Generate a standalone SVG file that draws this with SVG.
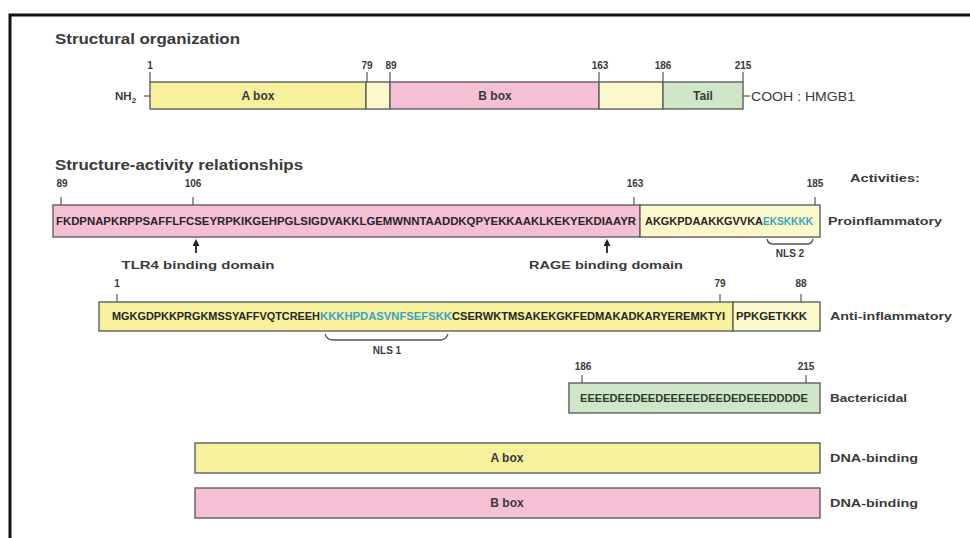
<svg xmlns="http://www.w3.org/2000/svg" width="970" height="538" viewBox="0 0 970 538">
<defs>
<style>
text{font-family:"Liberation Sans",Arial,sans-serif;fill:#3a3a3a}
.t{font-size:14.5px;font-weight:bold}
.lab{font-size:11.5px;font-weight:bold}
.num{font-size:10px;font-weight:bold;text-anchor:middle}
.box{font-size:12px;font-weight:bold;text-anchor:middle}
.seq{font-size:10px;font-weight:bold;fill:#262626}
.cy{fill:#3aa3c4}
.ob{stroke:#5e5e5e;stroke-width:1.4}
.ya{fill:#f7f09c}
.pk{fill:#f5bfd6}
.ly{fill:#fbf8cb}
.gr{fill:#cfe6c8}
.tk{stroke:#555;stroke-width:1.2}
.br{fill:none;stroke:#555;stroke-width:1.3}
</style>
<marker id="ah" markerWidth="7" markerHeight="7" refX="3" refY="3.5" orient="auto" markerUnits="userSpaceOnUse">
<path d="M0,0 L7,3.5 L0,7 z" fill="#222"/>
</marker>
</defs>
<rect width="970" height="538" fill="#fff"/>
<path d="M10,538 V15 H970" fill="none" stroke="#111" stroke-width="3"/>

<text class="t" x="55" y="44" textLength="185" lengthAdjust="spacingAndGlyphs">Structural organization</text>

<g id="hmgb1-structure">
<rect class="ya ob" x="150" y="82" width="216" height="27"/>
<rect class="ly ob" x="366" y="82" width="24" height="27"/>
<rect class="pk ob" x="390" y="82" width="209" height="27"/>
<rect class="ly ob" x="599" y="82" width="64" height="27"/>
<rect class="gr ob" x="663" y="82" width="80" height="27"/>
<text class="box" x="258" y="100">A box</text>
<text class="box" x="495" y="100">B box</text>
<text class="box" x="703" y="100">Tail</text>
<line class="tk" x1="150" y1="72" x2="150" y2="82"/>
<line class="tk" x1="367" y1="72" x2="367" y2="82"/>
<line class="tk" x1="390" y1="72" x2="390" y2="82"/>
<line class="tk" x1="599" y1="72" x2="599" y2="82"/>
<line class="tk" x1="663" y1="72" x2="663" y2="82"/>
<line class="tk" x1="743" y1="72" x2="743" y2="82"/>
<text class="num" x="150" y="69">1</text>
<text class="num" x="367" y="69">79</text>
<text class="num" x="391" y="69">89</text>
<text class="num" x="600" y="69">163</text>
<text class="num" x="663" y="69">186</text>
<text class="num" x="743" y="69">215</text>
<text x="115" y="100" style="font-size:11.5px;font-weight:bold">NH<tspan style="font-size:8px" dy="3">2</tspan></text>
<line class="tk" x1="144" y1="96" x2="150" y2="96"/>
<line class="tk" x1="743" y1="96" x2="750" y2="96"/>
<text x="751" y="100.5" style="font-size:13px" textLength="104" lengthAdjust="spacingAndGlyphs">COOH : HMGB1</text>
</g>

<text class="t" x="55" y="170" textLength="248" lengthAdjust="spacingAndGlyphs">Structure-activity relationships</text>
<text class="lab" x="850" y="182" textLength="70" lengthAdjust="spacingAndGlyphs">Activities:</text>

<g id="proinflammatory">
<rect class="pk ob" x="53" y="205" width="587" height="32"/>
<rect class="ly ob" x="640" y="205" width="180" height="32"/>
<text class="seq" x="56" y="225" textLength="580" lengthAdjust="spacingAndGlyphs">FKDPNAPKRPPSAFFLFCSEYRPKIKGEHPGLSIGDVAKKLGEMWNNTAADDKQPYEKKAAKLKEKYEKDIAAYR</text>
<text class="seq" x="645" y="225" textLength="118" lengthAdjust="spacingAndGlyphs">AKGKPDAAKKGVVKA</text>
<text class="seq cy" x="763" y="225" textLength="50" lengthAdjust="spacingAndGlyphs">EKSKKKK</text>
<line class="tk" x1="61" y1="197" x2="61" y2="205"/>
<line class="tk" x1="193" y1="197" x2="193" y2="205"/>
<line class="tk" x1="634" y1="197" x2="634" y2="205"/>
<line class="tk" x1="815" y1="197" x2="815" y2="205"/>
<text class="num" x="62" y="187">89</text>
<text class="num" x="193" y="187">106</text>
<text class="num" x="635" y="187">163</text>
<text class="num" x="815" y="187">185</text>
<text class="lab" x="828" y="225" textLength="114" lengthAdjust="spacingAndGlyphs">Proinflammatory</text>
<text class="lab" x="198" y="269" text-anchor="middle" textLength="153" lengthAdjust="spacingAndGlyphs">TLR4 binding domain</text>
<text class="lab" x="606" y="269" text-anchor="middle" textLength="154" lengthAdjust="spacingAndGlyphs">RAGE binding domain</text>
<text class="lab" x="790" y="257" text-anchor="middle" style="font-size:10px">NLS 2</text>
</g>

<g id="anti-inflammatory">
<rect class="ya ob" x="99" y="302" width="634" height="29"/>
<rect class="ly ob" x="733" y="302" width="87" height="29"/>
<text class="seq" x="112" y="320" textLength="208" lengthAdjust="spacingAndGlyphs">MGKGDPKKPRGKMSSYAFFVQTCREEH</text>
<text class="seq cy" x="320" y="320" textLength="132" lengthAdjust="spacingAndGlyphs">KKKHPDASVNFSEFSKK</text>
<text class="seq" x="452" y="320" textLength="273" lengthAdjust="spacingAndGlyphs">CSERWKTMSAKEKGKFEDMAKADKARYEREMKTYI</text>
<text class="seq" x="736" y="320" textLength="71" lengthAdjust="spacingAndGlyphs">PPKGETKKK</text>
<line class="tk" x1="117" y1="294" x2="117" y2="302"/>
<line class="tk" x1="720" y1="294" x2="720" y2="302"/>
<line class="tk" x1="801" y1="294" x2="801" y2="302"/>
<text class="num" x="117" y="287">1</text>
<text class="num" x="720" y="287">79</text>
<text class="num" x="801" y="287">88</text>
<text class="lab" x="830" y="320" textLength="122" lengthAdjust="spacingAndGlyphs">Anti-inflammatory</text>
<text class="lab" x="387" y="354" text-anchor="middle" style="font-size:10px">NLS 1</text>
</g>

<g id="bactericidal">
<rect class="gr ob" x="569" y="383" width="251" height="30"/>
<text class="seq" x="580" y="402" textLength="228" lengthAdjust="spacingAndGlyphs" style="fill:#2d3d2a">EEEEDEEDEEDEEEEEDEEDEDEEEDDDDE</text>
<line class="tk" x1="582" y1="375" x2="582" y2="383"/>
<line class="tk" x1="806" y1="375" x2="806" y2="383"/>
<text class="num" x="583" y="370">186</text>
<text class="num" x="806" y="370">215</text>
<text class="lab" x="830" y="402" textLength="77" lengthAdjust="spacingAndGlyphs">Bactericidal</text>
</g>

<g id="dna-binding-a">
<rect class="ya ob" x="195" y="443" width="625" height="30"/>
<text class="box" x="507" y="462">A box</text>
<text class="lab" x="830" y="462" textLength="88" lengthAdjust="spacingAndGlyphs">DNA-binding</text>
</g>

<g id="dna-binding-b">
<rect class="pk ob" x="195" y="488" width="625" height="30"/>
<text class="box" x="507" y="507">B box</text>
<text class="lab" x="830" y="507" textLength="88" lengthAdjust="spacingAndGlyphs">DNA-binding</text>
</g>

<g id="connectors">
<line x1="196" y1="253" x2="196" y2="243" stroke="#222" stroke-width="1.8" marker-end="url(#ah)"/>
<line x1="607" y1="253" x2="607" y2="243" stroke="#222" stroke-width="1.8" marker-end="url(#ah)"/>
<path class="br" d="M767,239 Q768,244 773,244 H807 Q812,244 813,239"/>
<path class="br" d="M325,334 Q327,340 333,340 H440 Q446,340 448,334"/>
</g>
</svg>
